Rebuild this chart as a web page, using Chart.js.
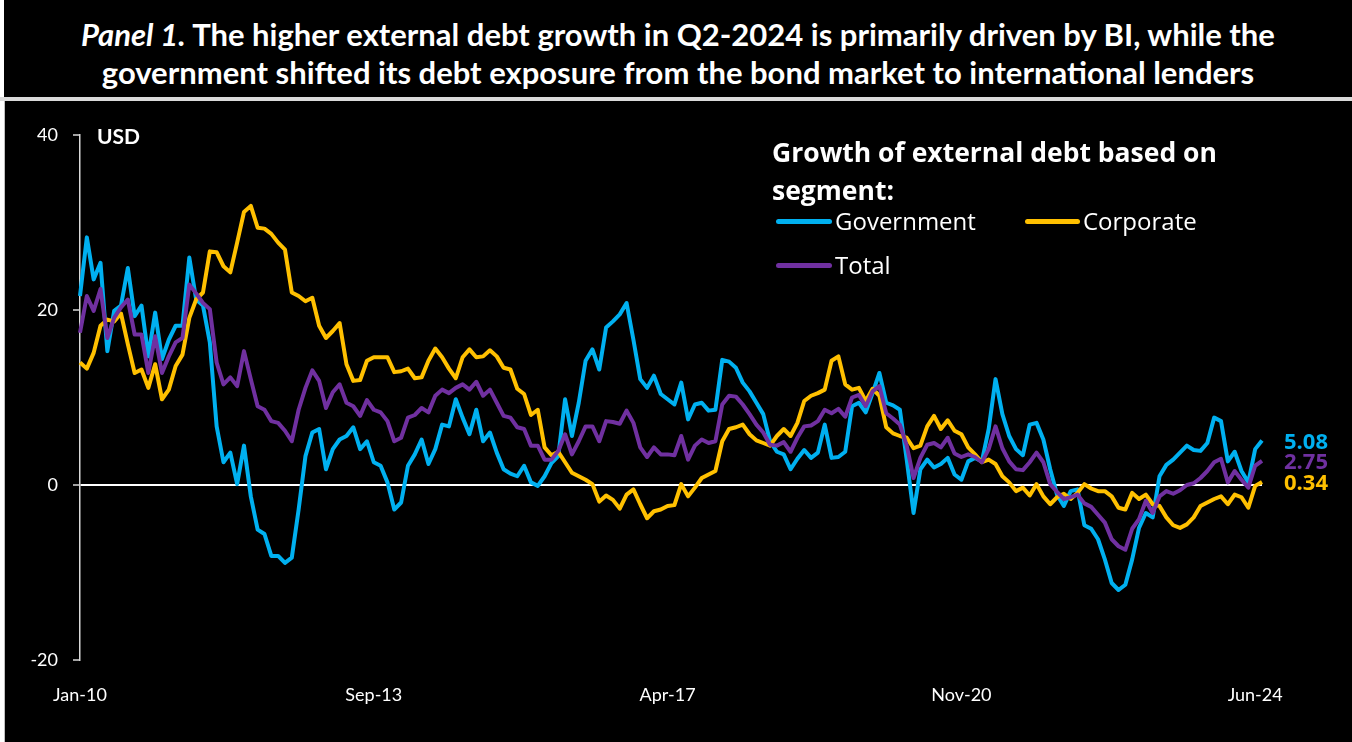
<!DOCTYPE html>
<html>
<head>
<meta charset="utf-8">
<script src="https://cdn.jsdelivr.net/npm/chart.js@4.4.1/dist/chart.umd.min.js"></script>
<style>
  html, body { margin: 0; padding: 0; background: #fff; }
  #wrap { position: relative; width: 1352px; height: 742px; overflow: hidden; background: #fff; }
  #title { position: absolute; left: 4px; top: 0; width: 1348px; height: 97px; background: #000; color: #fff;
           font-family: Lato, sans-serif; font-weight: bold; font-size: 31px; line-height: 38px;
           text-align: center; padding-top: 15px; box-sizing: border-box; }
  #frame { position: absolute; left: 4px; top: 101px; width: 1348px; height: 641px; background: #000;
           border-left: 1px solid #bfbfbf; box-sizing: border-box; }
  #sep { position: absolute; left: 0; top: 97px; width: 1352px; height: 4px; background: #d9d9d9; }
  #chart { position: absolute; left: 0; top: 0; }
  .lt { position: absolute; left: 772px; color: #fff; font: bold 26.5px 'Open Sans', sans-serif; line-height: 38px; white-space: nowrap; }
  .ls { position: absolute; height: 5px; border-radius: 3px; }
  .lx { position: absolute; color: #fff; font: 24px 'Open Sans', sans-serif; line-height: 30px; white-space: nowrap; }
</style>
</head>
<body>
<div id="wrap">
  <div id="title"><i>Panel 1.</i> The higher external debt growth in Q2-2024 is primarily driven by BI, while the<br>government shifted its debt exposure from the bond market to international lenders</div>
  <div id="sep"></div>
  <div id="frame"></div>
  <canvas id="chart" width="1352" height="742"></canvas>
  <div class="lt" style="top:133px">Growth of external debt based on</div>
  <div class="lt" style="top:171px">segment:</div>
  <div class="ls" style="left:776px; top:219px; width:56px; background:#00B0F0"></div>
  <div class="lx" style="left:835px; top:206px">Government</div>
  <div class="ls" style="left:1025px; top:219px; width:55px; background:#FFC000"></div>
  <div class="lx" style="left:1083px; top:206px">Corporate</div>
  <div class="ls" style="left:776px; top:263px; width:56px; background:#7030A0"></div>
  <div class="lx" style="left:835px; top:250px">Total</div>
</div>
<script>
const monthNames = ['Jan', 'Feb', 'Mar', 'Apr', 'May', 'Jun', 'Jul', 'Aug', 'Sep', 'Oct', 'Nov', 'Dec'];
const months = [];
for (let y = 2010; y <= 2024; y++) {
    for (let m = 0; m < 12; m++) {
        if (y === 2024 && m > 5) break;
        months.push(monthNames[m] + '-' + String(y).slice(2));
    }
}

const tickLabels = ['Jan-10', 'Sep-13', 'Apr-17', 'Nov-20', 'Jun-24'];
const tickIndex = [0, 43, 86, 129, 172];

const government = [
    21.6, 28.3, 23.5, 25.4, 15.3, 19.9, 20.5, 24.8, 19.3, 20.5, 14.7, 19.7,
    14.4, 16.6, 18.2, 18.2, 26.0, 21.2, 20.5, 16.3, 6.7, 2.6, 3.7, 0.1,
    4.5, -1.3, -5.1, -5.6, -8.1, -8.1, -8.9, -8.3, -2.8, 3.3, 6.0, 6.4,
    1.8, 4.1, 5.2, 5.6, 6.6, 4.1, 5.0, 2.6, 2.2, 0.3, -2.8, -2.0,
    2.2, 3.5, 5.2, 2.4, 4.1, 6.9, 6.7, 9.8, 7.7, 5.8, 8.6, 5.0,
    6.0, 3.7, 1.8, 1.3, 1.0, 2.2, 0.3, -0.1, 1.0, 2.5, 3.3, 9.8,
    5.6, 9.4, 14.2, 15.5, 13.2, 18.0, 18.7, 19.5, 20.8, 16.6, 12.1, 11.1,
    12.5, 10.4, 9.8, 9.2, 11.7, 7.5, 9.2, 9.4, 8.5, 8.6, 14.3, 14.1,
    13.4, 11.7, 10.7, 9.4, 8.1, 5.0, 3.8, 3.5, 1.8, 3.0, 4.0, 3.1,
    3.7, 6.9, 3.1, 3.2, 3.8, 9.0, 9.4, 8.3, 10.5, 12.8, 9.4, 9.1,
    8.6, 2.9, -3.2, 1.8, 2.9, 2.0, 2.4, 3.1, 1.2, 0.6, 2.7, 3.1,
    2.7, 6.4, 12.1, 8.1, 5.6, 4.1, 3.4, 6.9, 7.1, 5.2, 1.8, -1.1,
    -2.4, -0.7, -0.5, -4.6, -5.0, -6.2, -8.5, -11.2, -12.0, -11.4, -8.5, -4.9,
    -3.2, -3.7, 1.0, 2.3, 2.9, 3.7, 4.5, 4.0, 3.9, 4.8, 7.7, 7.3,
    2.7, 3.8, 1.6, 0.3, 4.1, 5.08
];

const corporate = [
    14.0, 13.3, 15.1, 18.2, 18.9, 18.7, 19.6, 16.1, 12.8, 13.2, 11.1, 13.8,
    9.8, 10.9, 13.6, 14.9, 19.1, 21.2, 22.0, 26.7, 26.6, 25.0, 24.3, 27.7,
    31.2, 31.9, 29.4, 29.3, 28.7, 27.7, 26.9, 22.0, 21.6, 21.0, 21.4, 18.2,
    16.8, 17.6, 18.5, 13.8, 11.9, 12.0, 14.2, 14.6, 14.6, 14.6, 12.9, 13.0,
    13.3, 12.2, 12.3, 14.2, 15.6, 14.6, 13.3, 12.2, 14.6, 15.5, 14.6, 14.7,
    15.4, 14.7, 13.4, 13.2, 11.0, 10.4, 8.0, 8.6, 4.3, 3.4, 3.8, 2.6,
    1.4, 1.0, 0.6, 0.1, -1.9, -1.2, -1.7, -2.7, -1.1, -0.5, -2.2, -3.8,
    -3.0, -2.8, -2.4, -2.3, 0.1, -1.3, -0.3, 0.8, 1.2, 1.6, 5.0, 6.4,
    6.6, 6.9, 5.8, 5.1, 4.8, 4.5, 5.6, 6.4, 5.6, 7.1, 9.6, 10.2,
    10.5, 10.9, 14.2, 14.7, 11.5, 10.9, 11.1, 9.6, 11.0, 10.2, 6.6, 5.9,
    5.6, 5.4, 4.2, 4.5, 6.7, 7.9, 6.4, 7.4, 6.2, 5.8, 4.3, 3.5,
    2.6, 2.9, 2.4, 1.0, 0.3, -0.7, -0.3, -1.2, 0.1, -1.3, -2.2, -1.4,
    -1.0, -1.6, -0.9, 0.1, -0.4, -0.7, -0.7, -1.3, -2.6, -2.8, -0.9, -1.6,
    -1.1, -2.2, -2.4, -3.7, -4.6, -4.9, -4.5, -3.7, -2.4, -2.0, -1.6, -1.3,
    -2.2, -1.1, -1.4, -2.6, -0.1, 0.34
];

const total = [
    17.4, 21.6, 19.9, 22.4, 16.8, 19.1, 20.3, 21.2, 17.2, 17.2, 12.8, 17.0,
    12.8, 14.7, 16.3, 16.8, 22.9, 21.9, 20.8, 20.1, 14.0, 11.5, 12.3, 11.3,
    15.3, 12.1, 9.0, 8.6, 7.3, 7.1, 6.2, 5.0, 8.6, 11.1, 13.1, 11.9,
    8.8, 10.6, 11.5, 9.4, 9.0, 7.9, 9.7, 8.6, 8.3, 7.3, 5.0, 5.4,
    7.7, 8.0, 8.8, 8.3, 10.2, 10.9, 10.5, 11.1, 11.5, 10.9, 11.8, 10.2,
    10.9, 9.4, 7.9, 7.7, 6.6, 6.4, 4.5, 4.5, 2.9, 2.9, 3.9, 5.8,
    3.5, 5.0, 6.7, 6.7, 5.0, 7.3, 7.2, 7.0, 8.5, 7.1, 4.3, 3.2,
    4.3, 3.5, 3.5, 3.4, 5.6, 2.9, 4.5, 5.2, 4.8, 5.0, 9.2, 10.2,
    10.1, 9.2, 8.1, 6.9, 6.0, 4.6, 4.5, 4.9, 3.8, 5.4, 6.7, 6.8,
    7.3, 8.6, 8.2, 8.7, 7.8, 10.0, 10.3, 9.0, 10.7, 11.3, 8.2, 7.6,
    6.9, 4.5, 0.8, 3.1, 4.6, 4.8, 4.3, 5.4, 3.6, 3.2, 3.5, 3.2,
    2.6, 4.1, 6.7, 4.2, 2.7, 1.8, 1.7, 2.6, 3.7, 2.6, 0.1, -0.8,
    -1.6, -1.4, -1.1, -2.1, -2.5, -3.4, -4.3, -6.2, -7.0, -7.4, -5.0, -3.9,
    -1.8, -3.2, -1.3, -0.7, -1.0, -0.6, 0.0, 0.2, 0.8, 1.6, 2.6, 3.0,
    0.3, 1.6, 0.6, -0.3, 2.2, 2.75
];

const lineColors = { government: '#00B0F0', corporate: '#FFC000', total: '#7030A0' };

// USD label + values at the end of each line
const extraText = {
    id: 'extraText',
    afterDatasetsDraw(chart) {
        const ctx = chart.ctx;
        const y = chart.scales.y;
        ctx.save();
        ctx.fillStyle = '#fff';
        ctx.font = 'bold 21px Lato';
        ctx.textAlign = 'left';
        ctx.textBaseline = 'middle';
        ctx.fillText('USD', 97, 137);
        ctx.font = 'bold 22px "Open Sans"';
        chart.data.datasets.forEach(ds => {
            const last = ds.data[ds.data.length - 1];
            ctx.fillStyle = ds.borderColor;
            ctx.fillText(last.toFixed(2), 1284, y.getPixelForValue(last) + 2);
        });
        ctx.restore();
    }
};

new Chart(document.getElementById('chart'), {
    type: 'line',
    data: {
        labels: months,
        datasets: [
            { label: 'Total', data: total, borderColor: lineColors.total, order: 1 },
            { label: 'Corporate', data: corporate, borderColor: lineColors.corporate, order: 2 },
            { label: 'Government', data: government, borderColor: lineColors.government, order: 3 }
        ]
    },
    options: {
        responsive: false,
        animation: false,
        layout: { padding: { left: 0, top: 135, right: 90, bottom: 0 } },
        elements: {
            line: { borderWidth: 4, tension: 0, borderJoinStyle: 'round' },
            point: { radius: 0 }
        },
        scales: {
            x: {
                grid: { display: false, drawTicks: false },
                border: { display: false },
                ticks: {
                    color: '#fff',
                    font: { family: 'Lato', size: 18 },
                    autoSkip: false,
                    maxRotation: 0,
                    padding: 24,
                    callback: (value, index) => {
                        const k = tickIndex.indexOf(index);
                        return k >= 0 ? tickLabels[k] : '';
                    }
                },
                afterFit: scale => { scale.height = 82; }
            },
            y: {
                min: -20,
                max: 40,
                ticks: {
                    stepSize: 20,
                    color: '#fff',
                    font: { family: 'Lato', size: 18 },
                    padding: 15
                },
                grid: {
                    color: c => c.tick.value === 0 ? '#ffffff' : 'rgba(0,0,0,0)',
                    lineWidth: 2,
                    tickColor: '#d9d9d9',
                    tickLength: 7,
                    tickWidth: 1.5
                },
                border: { display: true, color: '#d9d9d9', width: 1.5 },
                afterFit: scale => { scale.width = 80; }
            }
        },
        plugins: {
            legend: { display: false },
            tooltip: { enabled: false }
        }
    },
    plugins: [extraText]
});
</script>
</body>
</html>
